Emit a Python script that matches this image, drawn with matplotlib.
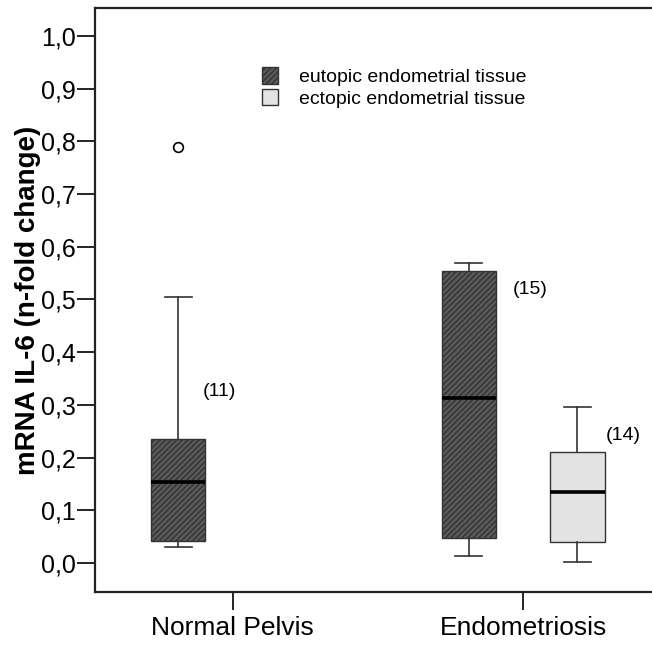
import matplotlib
matplotlib.use("Agg")
import matplotlib.pyplot as plt
from matplotlib.patches import Rectangle
import matplotlib as mpl

plt.rcParams['font.family'] = ['Liberation Sans', 'DejaVu Sans']
mpl.rcParams['hatch.linewidth'] = 1.0

categories = ["Normal Pelvis", "Endometriosis"]
series_names = ["eutopic endometrial tissue", "ectopic endometrial tissue"]

# stats: (whisker_low, q1, median, q3, whisker_high)
eutopic_stats = [(0.030, 0.042, 0.154, 0.235, 0.505),
                 (0.013, 0.047, 0.313, 0.554, 0.569)]
ectopic_stats = [None,
                 (0.002, 0.040, 0.135, 0.211, 0.296)]
eutopic_outliers = [[0.789], []]
ectopic_outliers = [[], []]
eutopic_n = ["(11)", "(15)"]
ectopic_n = [None, "(14)"]

yticks = [0.0, 0.1, 0.2, 0.3, 0.4, 0.5, 0.6, 0.7, 0.8, 0.9, 1.0]
yticklabels = ["0,0", "0,1", "0,2", "0,3", "0,4", "0,5", "0,6", "0,7", "0,8", "0,9", "1,0"]

# layout: where the "(n)" labels sit (x offset from box centre, y in data units)
eutopic_n_pos = [(0.142, 0.325), (0.210, 0.518)]
ectopic_n_pos = [None, (0.159, 0.241)]

fig = plt.figure(figsize=(6.52, 6.46), dpi=100)
W, H = 652, 646
ax = fig.add_axes([95 / W, 1 - 592 / H, (652 - 95) / W, (592 - 8) / H])

offset = 0.187
width = 0.187
dark_fill = "#5a5a5a"
light_fill = "#e3e3e3"

for i, cat in enumerate(categories):
    for stats, outl, nlab, npos, off, fill, hatch in [
        (eutopic_stats[i], eutopic_outliers[i], eutopic_n[i], eutopic_n_pos[i], -offset, dark_fill, "//////"),
        (ectopic_stats[i], ectopic_outliers[i], ectopic_n[i], ectopic_n_pos[i], offset, light_fill, None),
    ]:
        if stats is None:
            continue
        x = i + off
        wl, q1, med, q3, wh = stats
        d = dict(whislo=wl, q1=q1, med=med, q3=q3, whishi=wh, fliers=outl, label="")
        ax.bxp([d], positions=[x], widths=width, patch_artist=True,
               showfliers=True, capwidths=width * 0.5,
               boxprops=dict(facecolor=fill, edgecolor="#333333", linewidth=1.0,
                             hatch=hatch),
               medianprops=dict(color="black", linewidth=2.6),
               whiskerprops=dict(color="#333333", linewidth=1.2),
               capprops=dict(color="#333333", linewidth=1.2),
               flierprops=dict(marker="o", markerfacecolor="white",
                               markeredgecolor="black", markersize=7,
                               markeredgewidth=1.2))
        if nlab:
            ax.text(x + npos[0], npos[1], nlab, fontsize=14, ha="center", va="center")

ax.set_xlim(-0.474, 1.444)
ax.set_ylim(-0.055, 1.053)
ax.set_xticks(range(len(categories)))
ax.set_xticklabels(categories, fontsize=19)
ax.set_yticks(yticks)
ax.set_yticklabels(yticklabels, fontsize=18)
ax.tick_params(axis="y", direction="out", length=13, width=1.2, colors="black", pad=1)
ax.tick_params(axis="x", direction="out", length=13, width=1.2, colors="black", pad=4)
ax.set_ylabel("mRNA IL-6 (n-fold change)", fontsize=20, fontweight="bold")
ax.yaxis.set_label_coords(-0.097, 0.5)
for s in ax.spines.values():
    s.set_linewidth(1.6)
    s.set_color("#222222")
ax.spines["right"].set_visible(False)

h1 = Rectangle((0, 0), 1, 1, facecolor=dark_fill, edgecolor="#333333", hatch="//////", linewidth=1)
h2 = Rectangle((0, 0), 1, 1, facecolor=light_fill, edgecolor="#333333", linewidth=1)
leg = ax.legend([h1, h2], series_names, loc="upper left", bbox_to_anchor=(0.285, 0.912),
                frameon=False, fontsize=14, handlelength=0.85, handleheight=0.95,
                handletextpad=1.1, labelspacing=0.12, borderaxespad=0)

fig.savefig("out.png", dpi=100)
